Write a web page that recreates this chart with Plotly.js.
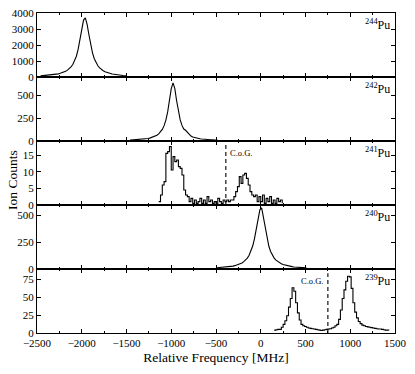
<!DOCTYPE html>
<html>
<head>
<meta charset="utf-8">
<script src="https://cdn.plot.ly/plotly-3.0.1.min.js"></script>
<style>
  html, body { margin: 0; padding: 0; background: #fff; }
  #spectra { width: 415px; height: 374px; }
</style>
</head>
<body>
<div id="spectra"></div>
<script>
// 244Pu
var f244 = [-2460, -2440, -2420, -2400, -2380, -2360, -2340, -2320, -2300, -2280, -2260, -2240, -2220, -2200, -2180, -2160, -2140, -2120, -2100, -2080, -2060, -2040, -2020, -2000, -1980, -1960, -1940, -1920, -1900, -1880, -1860, -1840, -1820, -1800, -1780, -1760, -1740, -1720, -1700, -1680, -1660, -1640, -1620, -1600, -1580, -1560, -1540, -1520, -1500];
var c244 = [70, 82, 85, 96, 101, 116, 122, 141, 154, 178, 196, 230, 258, 306, 352, 430, 510, 635, 780, 1010, 1300, 1740, 2290, 2980, 3560, 3700, 3290, 2640, 1990, 1510, 1140, 890, 700, 570, 462, 392, 325, 284, 240, 214, 184, 168, 144, 134, 117, 110, 96, 92, 80];

// 242Pu
var f242 = [-1460, -1440, -1420, -1400, -1380, -1360, -1340, -1320, -1300, -1280, -1260, -1240, -1220, -1200, -1180, -1160, -1140, -1120, -1100, -1080, -1060, -1040, -1020, -1000, -980, -960, -940, -920, -900, -880, -860, -840, -820, -800, -780, -760, -740, -720, -700, -680, -660, -640, -620, -600, -580, -560, -540, -520, -500, -480];
var c242 = [10, 11, 12, 13, 14, 16, 17, 19, 22, 25, 28, 32, 38, 44, 53, 64, 79, 99, 128, 169, 230, 320, 443, 576, 640, 576, 443, 320, 232, 172, 132, 118, 96, 66, 55, 45, 38, 32, 28, 25, 22, 19, 17, 16, 14, 13, 12, 11, 10, 9];

// 241Pu
var f241 = [-1140, -1120, -1100, -1080, -1060, -1040, -1020, -1000, -980, -960, -940, -920, -900, -880, -860, -840, -820, -800, -780, -760, -740, -720, -700, -680, -660, -640, -620, -600, -580, -560, -540, -520, -500, -480, -460, -440, -420, -400, -380, -360, -340, -320, -300, -280, -260, -240, -220, -200, -180, -160, -140, -120, -100, -80, -60, -40, -20, 0, 20, 40, 60, 80, 100, 120, 140, 160, 180, 200, 220, 240];
var c241 = [1, 3, 6, 7, 15.5, 16, 17.5, 10.5, 14.5, 13, 13.5, 11.5, 11, 9, 4.5, 3, 2.5, 1, 2, 0.5, 1.5, 0.5, 1, 2, 0.5, 1.5, 0.5, 2.5, 1, 1.5, 0.5, 1, 0.5, 2, 1, 0.5, 1.5, 1, 1.5, 1, 1.5, 1.5, 2.5, 4, 5.5, 8.5, 6.5, 9, 9.5, 8, 6, 4, 3, 2.5, 3, 1, 2.5, 1, 3, 0.5, 2, 1, 2.5, 0.5, 1.5, 0.5, 2, 1, 1.5, 0.5];

// 240Pu
var f240 = [-490, -470, -450, -430, -410, -390, -370, -350, -330, -310, -290, -270, -250, -230, -210, -190, -170, -150, -130, -110, -90, -70, -50, -30, -10, 10, 30, 50, 70, 90, 110, 130, 150, 170, 190, 210, 230, 250, 270, 290, 310, 330, 350, 370, 390, 410, 430, 450, 470, 490, 510];
var c240 = [11, 12, 13, 15, 16, 18, 19, 22, 24, 27, 31, 36, 41, 48, 56, 68, 82, 101, 127, 163, 213, 282, 374, 477, 548, 566, 477, 374, 282, 213, 163, 127, 101, 82, 68, 56, 48, 41, 36, 31, 27, 24, 22, 19, 18, 16, 15, 13, 12, 11, 10];

// 239Pu
var f239 = [150, 170, 190, 210, 230, 250, 270, 290, 310, 330, 350, 370, 390, 410, 430, 450, 470, 490, 510, 530, 550, 570, 590, 610, 630, 650, 670, 690, 710, 730, 750, 770, 790, 810, 830, 850, 870, 890, 910, 930, 950, 970, 990, 1010, 1030, 1050, 1070, 1090, 1110, 1130, 1150, 1170, 1190, 1210, 1230, 1250, 1270, 1290, 1310, 1330, 1350, 1370, 1390, 1410, 1430];
var c239 = [4, 4.5, 5, 5, 8, 12, 17, 24, 36, 48, 63, 58, 42, 28, 18, 12, 10, 9, 8, 7, 6.5, 6, 5.5, 5, 4.5, 4, 3.5, 4, 4.5, 5, 5.5, 6, 7, 8, 10, 12, 19, 32, 48, 60, 72, 79, 78, 62, 42, 29, 21, 16, 13, 11, 10, 9, 8.5, 8, 7.5, 7, 6.5, 6, 5.5, 5.5, 5, 4.5, 4, 4, 3.5];

// centre-of-gravity markers
var cogFreq241 = [-390, -390];
var cogCount241 = [0, 18];
var cogFreq239 = [750, 750];
var cogCount239 = [0, 83];

var isotopes = ['<sup>244</sup>Pu', '<sup>242</sup>Pu', '<sup>241</sup>Pu', '<sup>240</sup>Pu', '<sup>239</sup>Pu'];
var yRanges = [[0, 4000], [0, 705], [0, 19.2], [0, 593], [0, 89]];
var yTicks = [[0, 1000, 2000, 3000, 4000], [0, 250, 500], [0, 5, 10, 15], [0, 250, 500], [0, 25, 50, 75]];

var serif = "'Liberation Serif', 'DejaVu Serif', serif";
function font(size) {
    return { family: serif, size: size, color: 'black' };
}

function spectrum(x, y, n, shape) {
    return {
        x: x, y: y, type: 'scatter', mode: 'lines',
        xaxis: n === 1 ? 'x' : 'x' + n,
        yaxis: n === 1 ? 'y' : 'y' + n,
        line: { color: 'black', width: 1.1, shape: shape || 'linear' },
        showlegend: false, hoverinfo: 'skip'
    };
}

var data = [
    spectrum(f244, c244, 1),
    spectrum(f242, c242, 2),
    spectrum(f241, c241, 3, 'hv'),
    spectrum(f240, c240, 4),
    spectrum(f239, c239, 5, 'hv')
];
var cog1 = spectrum(cogFreq241, cogCount241, 3);
cog1.line.dash = '4px,3px';
var cog2 = spectrum(cogFreq239, cogCount239, 5);
cog2.line.dash = '4px,3px';
data.push(cog1, cog2);

var layout = {
    width: 415, height: 374,
    margin: { l: 37, r: 20, t: 13, b: 41 },
    paper_bgcolor: 'white', plot_bgcolor: 'white',
    font: font(11),
    showlegend: false,
    annotations: []
};

for (var i = 1; i <= 5; i++) {
    var xa = {
        range: [-2500, 1500], tick0: 0, dtick: 500,
        ticks: 'inside', ticklen: 4, tickcolor: 'black', tickwidth: 1,
        minor: { dtick: 250, ticks: 'inside', ticklen: 2, tickcolor: 'black' },
        showline: true, linecolor: 'black', linewidth: 1, mirror: 'ticks',
        showgrid: false, zeroline: false,
        anchor: i === 1 ? 'y' : 'y' + i,
        showticklabels: i === 5,
        tickfont: font(11)
    };
    if (i === 5) {
        xa.title = { text: 'Relative Frequency [MHz]', font: font(13.5), standoff: 4 };
    }
    var ya = {
        domain: [(5 - i) * 0.2, (6 - i) * 0.2],
        range: yRanges[i - 1],
        tickvals: yTicks[i - 1],
        ticks: 'inside', ticklen: 4, tickcolor: 'black',
        showline: true, linecolor: 'black', linewidth: 1, mirror: 'ticks',
        showgrid: false, zeroline: false,
        anchor: i === 1 ? 'x' : 'x' + i,
        tickfont: font(11)
    };
    layout[i === 1 ? 'xaxis' : 'xaxis' + i] = xa;
    layout[i === 1 ? 'yaxis' : 'yaxis' + i] = ya;

    layout.annotations.push({
        text: isotopes[i - 1],
        xref: i === 1 ? 'x domain' : 'x' + i + ' domain',
        yref: i === 1 ? 'y domain' : 'y' + i + ' domain',
        x: 1, y: 1, xanchor: 'right', yanchor: 'top',
        xshift: -3, yshift: -2,
        showarrow: false, font: font(12)
    });
}

layout.annotations.push({
    text: 'C.o.G.', xref: 'x3', yref: 'y3 domain', x: -390, y: 0.92,
    xanchor: 'left', yanchor: 'top', xshift: 2, showarrow: false, font: font(8.5)
});
layout.annotations.push({
    text: 'C.o.G.', xref: 'x5', yref: 'y5 domain', x: 750, y: 0.92,
    xanchor: 'right', yanchor: 'top', xshift: -3, showarrow: false, font: font(8.5)
});
layout.annotations.push({
    text: 'Ion Counts', xref: 'paper', yref: 'paper', x: -0.07, y: 0.478,
    xanchor: 'center', yanchor: 'middle', textangle: -90,
    showarrow: false, font: font(13.5)
});

Plotly.newPlot('spectra', data, layout, { staticPlot: true });
</script>
</body>
</html>
